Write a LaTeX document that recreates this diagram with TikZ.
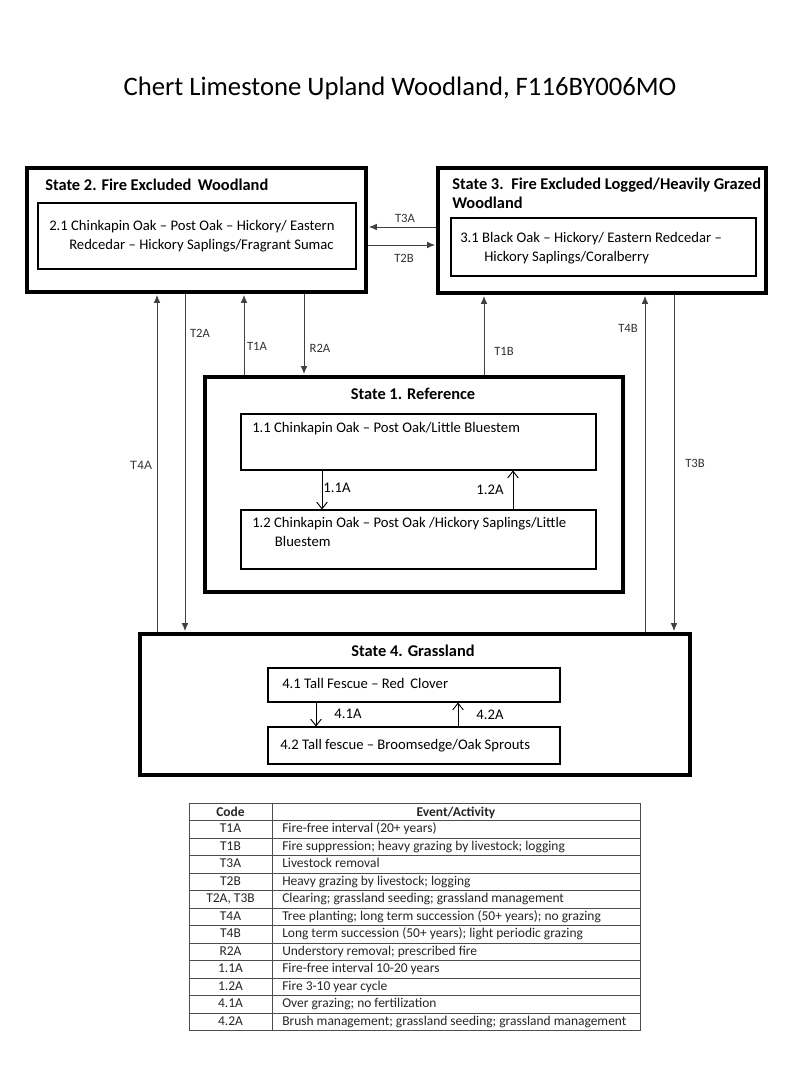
\documentclass[tikz,border=0pt]{standalone}
\usepackage{fontspec}
\setmainfont{Carlito}
\newfontfamily\arialf{Liberation Sans}
\usetikzlibrary{arrows.meta,fit}
\newcommand\mytitlef{\fontsize{20}{24}\selectfont}
\newcommand\mystatef{\fontsize{12.3}{14.25}\selectfont\bfseries}
\newcommand\myboxf{\fontsize{11}{14}\selectfont}
\newcommand\mylabf{\fontsize{9.5}{11}\selectfont}
\newcommand\mytblf{\fontsize{10.1}{12}\selectfont}
\begin{document}
\begin{tikzpicture}[x=0.75pt,y=-0.75pt,
  outerbox/.style={draw=black,line width=2.4pt,inner sep=0pt},
  innerbox/.style={draw=black,line width=0.8pt,inner sep=0pt},
  sarr/.style={draw=black!75,line width=0.7pt,-{Latex[length=6pt,width=5pt]},shorten >=1pt},
  oarr/.style={draw=black,line width=0.7pt,-{Straight Barb[length=5pt,width=8pt]}},
  lab/.style={font=\mylabf,text=black!80,inner sep=0pt},
  statet/.style={font=\mystatef,inner sep=0pt,align=left},
  boxt/.style={font=\myboxf,inner sep=0pt,align=left},
  tblframe/.style={draw=black!70,line width=0.6pt,inner sep=0pt},
  tblline/.style={draw=black!70,line width=0.6pt},
  tbltext/.style={font=\mytblf,inner sep=0pt,text=black!85}]
\useasboundingbox[fill=white] (0,0) rectangle (800,1067);

\node[font=\mytitlef,anchor=base,inner sep=0pt] (title) at (400,95) {Chert Limestone Upland Woodland, F116BY006MO};

% State 2
\node[fit={(27,168) (366,292)},outerbox] (s2) {};
\node[statet,anchor=base west] (s2t) at (45,190) {State 2. Fire Excluded\, Woodland};
\node[fit={(38,203) (356,269)},innerbox] (b21) {};
\node[boxt,anchor=base west] (b21t) at (49,249.5) {2.1 Chinkapin Oak – Post Oak – Hickory/ Eastern\\\hspace*{15pt}Redcedar – Hickory Saplings/Fragrant Sumac};

% State 3
\node[fit={(438,168) (766,293)},outerbox] (s3) {};
\node[statet,anchor=base west] (s3t) at (452,208) {State 3.\, Fire Excluded Logged/Heavily Grazed\\Woodland};
\node[fit={(451,218) (756,276)},innerbox] (b31) {};
\node[boxt,anchor=base west] (b31t) at (460,261) {3.1 Black Oak – Hickory/ Eastern Redcedar –\\\hspace*{18pt}Hickory Saplings/Coralberry};

% State 1
\node[fit={(205,377) (623,592)},outerbox] (s1) {};
\node[statet,anchor=base] (s1t) at (413,399) {State 1. Reference};
\node[fit={(241,414) (596,470)},innerbox] (b11) {};
\node[boxt,anchor=base west] (b11t) at (252,432) {1.1 Chinkapin Oak – Post Oak/Little Bluestem};
\node[fit={(241,510) (596,569)},innerbox] (b12) {};
\node[boxt,anchor=base west] (b12t) at (252,546) {1.2 Chinkapin Oak – Post Oak /Hickory Saplings/Little\\\hspace*{17pt}Bluestem};

% State 4
\node[fit={(140,634) (690,775)},outerbox] (s4) {};
\node[statet,anchor=base] (s4t) at (413,656) {State 4. Grassland};
\node[fit={(268,668) (560,702)},innerbox] (b41) {};
\node[boxt,anchor=base west] (b41t) at (282,688) {4.1 Tall Fescue – Red\, Clover};
\node[fit={(268,727) (560,764)},innerbox] (b42) {};
\node[boxt,anchor=base west] (b42t) at (280,749) {4.2 Tall fescue – Broomsedge/Oak Sprouts};

% state transitions
\draw[sarr] (s3.west |- 0,227) -- (s2.east |- 0,227);
\draw[sarr] (s2.east |- 0,245) -- (s3.west |- 0,245);
\node[lab] (lT3A) at (405,218) {T3A};
\node[lab] (lT2B) at (404,258) {T2B};

\draw[sarr] (s4.north -| 157,0) -- (s2.south -| 157,0);
\draw[sarr] (s2.south -| 185,0) -- (s4.north -| 185,0);
\draw[sarr] (s1.north -| 244,0) -- (s2.south -| 244,0);
\draw[sarr] (s2.south -| 304,0) -- (s1.north -| 304,0);
\draw[sarr] (s1.north -| 484,0) -- (s3.south -| 484,0);
\draw[sarr] (s4.north -| 645,0) -- (s3.south -| 645,0);
\draw[sarr] (s3.south -| 674,0) -- (s4.north -| 674,0);
\node[lab,font=\arialf\fontsize{9}{11}\selectfont] (lT4A) at (141,465) {T4A};
\node[lab] (lT2A) at (200,333) {T2A};
\node[lab] (lT1A) at (257,346) {T1A};
\node[lab] (lR2A) at (320,348) {R2A};
\node[lab] (lT1B) at (504,351) {T1B};
\node[lab] (lT4B) at (628,328) {T4B};
\node[lab] (lT3B) at (695,463) {T3B};

% community pathways
\draw[oarr] (b11.south -| 322,0) -- (b12.north -| 322,0);
\draw[oarr] (b12.north -| 513,0) -- (b11.south -| 513,0);
\node[boxt] (l11A) at (337,488) {1.1A};
\node[boxt] (l12A) at (490,490) {1.2A};
\draw[oarr] (b41.south -| 316,0) -- (b42.north -| 316,0);
\draw[oarr] (b42.north -| 458,0) -- (b41.south -| 458,0);
\node[boxt] (l41A) at (348,714) {4.1A};
\node[boxt] (l42A) at (490,715) {4.2A};

% table
\node[fit={(189,803) (640,1030.5)},tblframe] (tbl) {};
\draw[tblline] (tbl.north -| 272,0) -- (tbl.south -| 272,0);
\foreach \k in {1,...,12} {
  \pgfmathsetmacro\yy{803+17.5*\k}
  \draw[tblline] (tbl.west |- 0,\yy) -- (tbl.east |- 0,\yy);
}
\node[tbltext,font=\mytblf\bfseries,anchor=base] (hcode) at (230.5,816) {Code};
\node[tbltext,font=\mytblf\bfseries,anchor=base] (hevent) at (456,816) {Event/Activity};
\foreach \c/\e [count=\i] in {
  T1A/{Fire-free interval (20+ years)},
  T1B/{Fire suppression; heavy grazing by livestock; logging},
  T3A/{Livestock removal},
  T2B/{Heavy grazing by livestock; logging},
  {T2A, T3B}/{Clearing; grassland seeding; grassland management},
  T4A/{Tree planting; long term succession (50+ years); no grazing},
  T4B/{Long term succession (50+ years); light periodic grazing},
  R2A/{Understory removal; prescribed fire},
  1.1A/{Fire-free interval 10-20 years},
  1.2A/{Fire 3-10 year cycle},
  4.1A/{Over grazing; no fertilization},
  4.2A/{Brush management; grassland seeding; grassland management}} {
  \pgfmathsetmacro\yy{803+17.5*(\i+0.5)+3.5}
  \node[tbltext,anchor=base] (c\i) at (230.5,\yy) {\c};
  \node[tbltext,anchor=base west] (e\i) at (282,\yy) {\e};
}
\end{tikzpicture}
\end{document}
